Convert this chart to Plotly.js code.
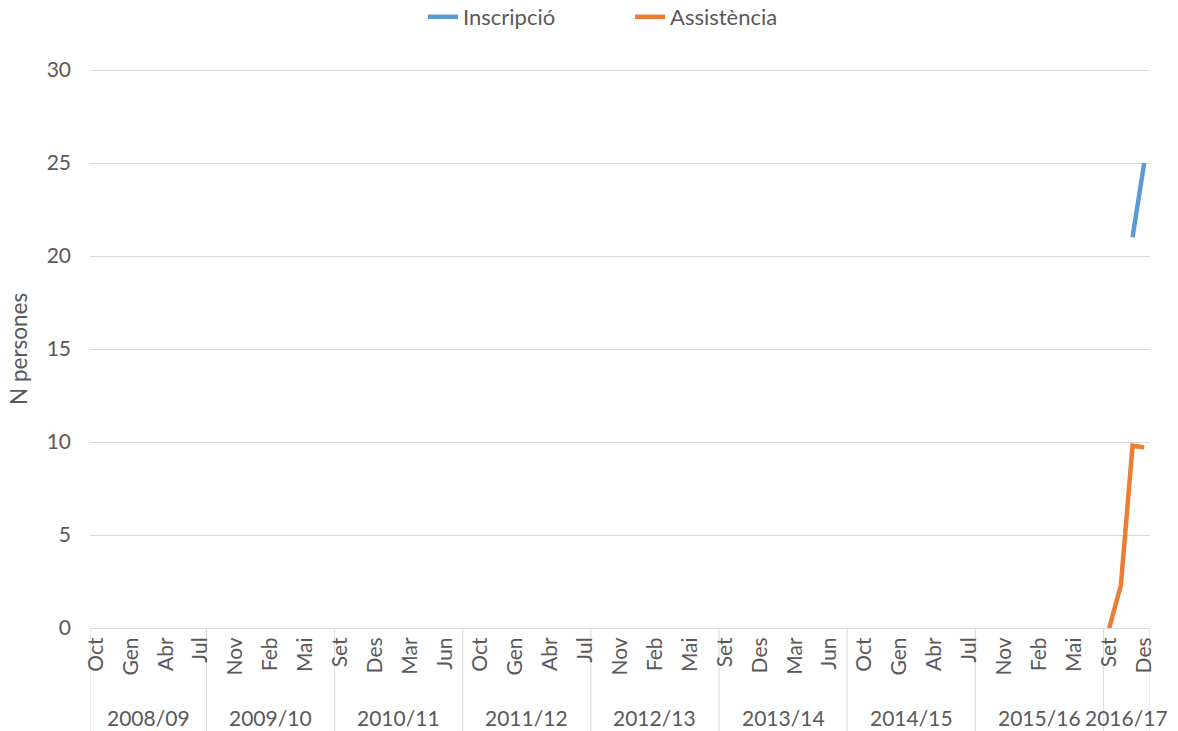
<!DOCTYPE html>
<html>
<head>
<meta charset="utf-8">
<script src="https://cdn.plot.ly/plotly-3.0.1.min.js"></script>
<style>html,body{margin:0;padding:0;background:#fff;}#chart{width:1178px;height:731px;}</style>
</head>
<body>
<div id="chart"></div>
<script>
// School-year groups and the months shown in each (monthly categories)
const groups = ['2008/09','2009/10','2010/11','2011/12','2012/13','2013/14','2014/15','2015/16','2016/17'];
const fullYear = ['Set','Oct','Nov','Des','Gen','Feb','Mar','Abr','Mai','Jun','Jul'];
const groupMonths = [
  ['Oct','Nov','Des','Gen','Feb','Mar','Abr','Mai','Jun','Jul'],
  fullYear, fullYear, fullYear, fullYear, fullYear, fullYear, fullYear,
  ['Set','Oct','Nov','Des']
];
// Data only exists for 2016/17
const dataGroup = '2016/17';
const dataMonths = ['Set','Oct','Nov','Des'];
const inscripcio = [null, null, 21, 25];
const assistencia = [0, 2.3, 9.8, 9.7];
const yTicks = [0, 5, 10, 15, 20, 25, 30];
const tickEvery = 3;

// Build flat category list
const cats = [];
const groupStart = [];
groups.forEach((g, gi) => {
  groupStart.push(cats.length);
  groupMonths[gi].forEach(m => cats.push({g, m}));
});
groupStart.push(cats.length);
const N = cats.length;
const idxOf = (g, m) => cats.findIndex(c => c.g === g && c.m === m);
const xData = dataMonths.map(m => idxOf(dataGroup, m));

const tickvals = [], ticktext = [];
cats.forEach((c, i) => { if (i % tickEvery === 0) { tickvals.push(i); ticktext.push(c.m); } });

const txt = '#595959', grid = '#d9d9d9';
const font = 'Lato, "Open Sans", sans-serif';
const plotH = 731 - 70 - 103;
const yMax = yTicks[yTicks.length - 1];

const shapes = groupStart.map(s => ({
  type: 'line', xref: 'x', yref: 'paper', x0: s - 0.5, x1: s - 0.5,
  y0: 0, y1: -103 / plotH, line: {color: grid, width: 1}, layer: 'below'
}));
// top gridline (edge of range)
shapes.push({type: 'line', xref: 'paper', yref: 'y', ysizemode: 'pixel', yanchor: yMax,
  x0: 0, x1: 1, y0: -0.5, y1: -0.5, line: {color: grid, width: 1}, layer: 'below'});

const annotations = groups.map((g, gi) => ({
  text: g, xref: 'x', yref: 'paper', x: (groupStart[gi] + groupStart[gi + 1] - 1) / 2, y: 0,
  yshift: -89, yanchor: 'middle', xanchor: 'center', showarrow: false,
  font: {family: font, size: 21, color: txt}
}));
annotations.push({
  text: 'N persones', xref: 'paper', yref: 'paper', x: 0, y: 0.5, xshift: -72,
  xanchor: 'center', yanchor: 'middle', textangle: -90, showarrow: false,
  font: {family: font, size: 22.5, color: txt}
});

const traces = [
  {x: xData, y: inscripcio, name: 'Inscripció', mode: 'lines', line: {color: '#5b9bd5', width: 4.5}},
  {x: xData, y: assistencia, name: 'Assistència', mode: 'lines', line: {color: '#ed7d31', width: 4.5}}
];

const layout = {
  width: 1178, height: 731,
  margin: {l: 90, r: 28, t: 70, b: 103},
  paper_bgcolor: '#fff', plot_bgcolor: '#fff',
  font: {family: font, size: 21, color: txt},
  showlegend: true,
  legend: {orientation: 'h', x: 423 / 1178, xanchor: 'left', xref: 'container', yref: 'container',
    y: 1 - 17 / 731, yanchor: 'middle', entrywidth: 162, entrywidthmode: 'pixels',
    font: {family: font, size: 22, color: txt}},
  xaxis: {type: 'linear', range: [-0.5, N - 0.5], tickmode: 'array', tickvals, ticktext,
    tickangle: -90, showgrid: false, zeroline: false, showline: true, linecolor: grid, linewidth: 1,
    ticks: '', tickfont: {family: font, size: 21, color: txt}, automargin: false, fixedrange: true},
  yaxis: {range: [0, yMax], tickvals: yTicks, showgrid: true, gridcolor: grid, gridwidth: 1,
    zeroline: false, showline: false, ticks: '', ticklabelstandoff: 18,
    tickfont: {family: font, size: 21, color: txt}, automargin: false, fixedrange: true},
  shapes, annotations
};
Plotly.newPlot('chart', traces, layout, {displayModeBar: false, staticPlot: true});
</script>
</body>
</html>
